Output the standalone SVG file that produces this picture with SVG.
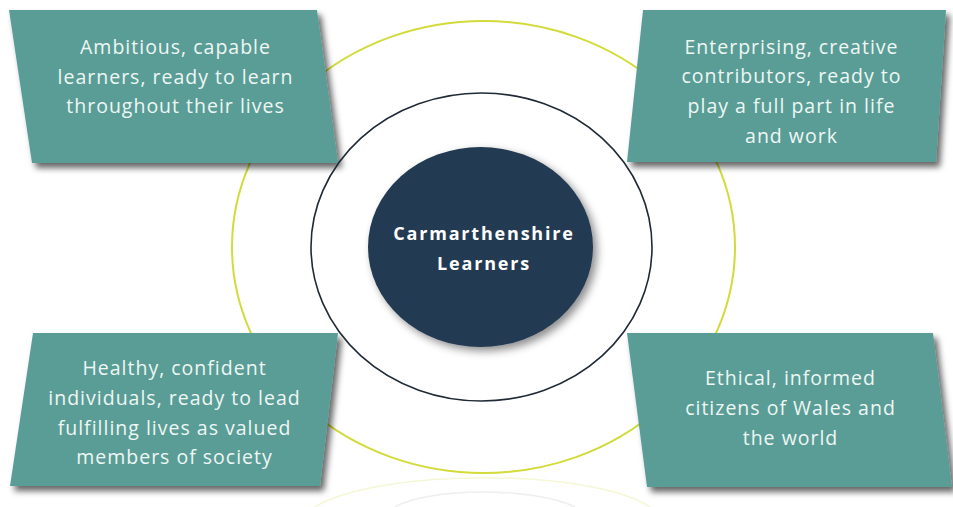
<svg xmlns="http://www.w3.org/2000/svg" width="953" height="507" viewBox="0 0 953 507">
  <defs>
    <filter id="boxShadow" x="-10%" y="-10%" width="125%" height="130%">
      <feDropShadow dx="4" dy="5" stdDeviation="3" flood-color="#000" flood-opacity="0.6"/>
    </filter>
    <filter id="circleShadow" x="-15%" y="-15%" width="135%" height="135%">
      <feDropShadow dx="4" dy="4" stdDeviation="4" flood-color="#000" flood-opacity="0.45"/>
    </filter>
    <style>
      .box { fill: #5a9d96; filter: url(#boxShadow); }
      .label { font-family: "Open Sans", Lato, "Liberation Sans", sans-serif; font-size: 19.5px; fill: #eef7f4; text-anchor: middle; letter-spacing: 1px; }
      .center { font-family: "Open Sans", Lato, "Liberation Sans", sans-serif; font-size: 18px; font-weight: bold; fill: #ffffff; text-anchor: middle; letter-spacing: 1.8px; }
      .ring-yellow { fill: none; stroke: #d2db3a; stroke-width: 2; }
      .ring-dark { fill: none; stroke: #1f2a36; stroke-width: 1.6; }
    </style>
  </defs>
  <rect width="953" height="507" fill="#ffffff"/>

  <g id="rings">
    <ellipse class="ring-yellow" cx="483.5" cy="247" rx="251.5" ry="226"/>
    <path d="M 315 507 C 380 468, 590 468, 650 507" fill="none" stroke="#d2db3a" stroke-width="1.5" opacity="0.22"/>
    <path d="M 395 507 C 430 487, 535 487, 575 507" fill="none" stroke="#9aa0a6" stroke-width="1.5" opacity="0.18"/>
  </g>

  <g id="node-tl">
    <polygon class="box" points="9,10 317,10 338,163 32,163"/>
    <text class="label" x="175.5" y="54">Ambitious, capable</text>
    <text class="label" x="175.5" y="83.5">learners, ready to learn</text>
    <text class="label" x="175.5" y="113">throughout their lives</text>
  </g>

  <g id="node-tr">
    <polygon class="box" points="643,10 946,10 936,162 627,162"/>
    <text class="label" x="791.5" y="53.5">Enterprising, creative</text>
    <text class="label" x="791.5" y="83">contributors, ready to</text>
    <text class="label" x="791.5" y="113">play a full part in life</text>
    <text class="label" x="791.5" y="142.5">and work</text>
  </g>

  <g id="node-bl">
    <polygon class="box" points="33,333 338,333 320,486 10,486"/>
    <text class="label" x="174.5" y="375">Healthy, confident</text>
    <text class="label" x="174.5" y="405">individuals, ready to lead</text>
    <text class="label" x="174.5" y="434.5">fulfilling lives as valued</text>
    <text class="label" x="174.5" y="463.5">members of society</text>
  </g>

  <g id="node-br">
    <polygon class="box" points="627,333 933,333 952,487 647,487"/>
    <text class="label" x="790.5" y="385">Ethical, informed</text>
    <text class="label" x="790.5" y="415">citizens of Wales and</text>
    <text class="label" x="790.5" y="445">the world</text>
  </g>

  <g id="outer-ring">
    <ellipse class="ring-dark" cx="481.5" cy="247" rx="170.5" ry="154"/>
  </g>

  <g id="node-center">
    <ellipse cx="480.5" cy="247" rx="112.5" ry="100" fill="#213a52" filter="url(#circleShadow)"/>
    <text class="center" x="484" y="240">Carmarthenshire</text>
    <text class="center" x="484" y="270">Learners</text>
  </g>
</svg>
